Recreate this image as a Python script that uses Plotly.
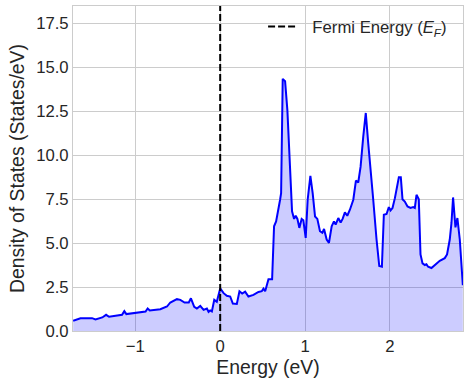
import plotly.graph_objects as go

energy = [-1.733, -1.647, -1.51, -1.47, -1.39, -1.345, -1.31, -1.157, -1.13, -1.106,
          -0.88, -0.855, -0.83, -0.706, -0.627, -0.588, -0.51, -0.47, -0.42, -0.37,
          -0.345, -0.306, -0.275, -0.235, -0.196, -0.157, -0.137, -0.118, -0.098, -0.07,
          -0.04, 0.0, 0.04, 0.078, 0.118, 0.149, 0.196, 0.227, 0.259, 0.294,
          0.333, 0.392, 0.451, 0.49, 0.51, 0.53, 0.569, 0.612, 0.635, 0.659,
          0.706, 0.718, 0.737, 0.765, 0.792, 0.824, 0.847, 0.871, 0.89, 0.91,
          0.933, 0.96, 0.98, 1.008, 1.031, 1.063, 1.09, 1.118, 1.145, 1.176,
          1.204, 1.224, 1.255, 1.282, 1.314, 1.341, 1.361, 1.392, 1.42, 1.443,
          1.47, 1.498, 1.529, 1.569, 1.6, 1.627, 1.655, 1.686, 1.716, 1.745,
          1.784, 1.804, 1.843, 1.875, 1.906, 1.929, 1.961, 1.988, 2.008, 2.031,
          2.059, 2.086, 2.106, 2.129, 2.149, 2.176, 2.208, 2.243, 2.275, 2.294,
          2.314, 2.341, 2.361, 2.385, 2.412, 2.431, 2.451, 2.49, 2.549, 2.588,
          2.647, 2.674, 2.706, 2.726, 2.745, 2.773, 2.796, 2.824, 2.86]
dos = [0.58, 0.72, 0.73, 0.66, 0.77, 0.92, 0.81, 0.92, 1.13, 0.96,
       1.11, 1.28, 1.17, 1.24, 1.39, 1.62, 1.81, 1.77, 1.62, 1.62,
       1.86, 1.37, 1.28, 1.43, 1.20, 1.28, 1.09, 1.17, 1.11, 1.77,
       1.66, 2.42, 2.15, 2.0, 1.96, 1.56, 1.54, 2.26, 2.13, 2.24,
       1.96, 2.05, 2.22, 2.26, 2.41, 2.26, 2.94, 2.94, 5.95, 6.23,
       7.46, 7.84, 14.33, 14.2, 12.54, 9.15, 6.8, 6.37, 6.55, 6.37,
       5.86, 6.37, 6.29, 5.29, 7.46, 8.81, 7.84, 6.51, 6.37, 5.67,
       5.58, 5.80, 5.20, 5.01, 5.95, 6.23, 6.05, 6.42, 6.17, 6.37,
       6.74, 6.55, 6.89, 7.46, 8.55, 8.44, 9.34, 11.03, 12.39, 10.66,
       8.21, 7.46, 5.20, 3.69, 3.65, 6.61, 6.65, 7.04, 6.85, 6.99,
       7.55, 8.31, 8.74, 8.74, 7.49, 7.36, 7.08, 6.99, 7.04, 6.99,
       7.74, 7.49, 4.35, 3.84, 3.75, 3.79, 3.65, 3.58, 3.84, 3.99,
       4.14, 4.35, 5.20, 6.14, 7.59, 5.89, 6.42, 5.20, 2.60]

fermi_energy = 0.0
x_range = [-1.735, 2.862]
y_range = [0, 18.47]
y_ticks = [0.0, 2.5, 5.0, 7.5, 10.0, 12.5, 15.0, 17.5]
x_ticks = [-1, 0, 1, 2]
x_tick_labels = ["\u22121", "0", "1", "2"]

FONT = "Liberation Sans, Arial, sans-serif"
GRID = "#cccccc"
TXT = "#262626"

fig = go.Figure()
fig.add_trace(go.Scatter(
    x=energy, y=dos, mode="lines",
    line=dict(color="#0000ff", width=2),
    fill="tozeroy", fillcolor="rgba(0,0,255,0.2)",
    showlegend=False, hoverinfo="skip"))
fig.add_trace(go.Scatter(
    x=[fermi_energy, fermi_energy], y=y_range, mode="lines",
    line=dict(color="black", width=2, dash="7px,3px"),
    name="  Fermi Energy (<i>E</i><sub><i>F</i></sub>)"))

fig.update_layout(
    width=469, height=380,
    margin=dict(l=73, r=6, t=5, b=48),
    paper_bgcolor="white", plot_bgcolor="white",
    font=dict(family=FONT, size=16.7, color=TXT),
    legend=dict(x=0.972, xanchor="right", y=0.99, yanchor="top",
                bgcolor="rgba(0,0,0,0)", font=dict(size=16.7, color=TXT),
                itemwidth=30),
)
fig.update_xaxes(
    range=x_range, tickvals=x_ticks, ticktext=x_tick_labels,
    showgrid=True, gridcolor=GRID, gridwidth=1,
    zeroline=False, showline=True, linecolor=GRID, linewidth=1, mirror=True,
    ticks="", ticklen=0,
    title=dict(text="Energy (eV)", font=dict(size=19.4), standoff=5),
    tickfont=dict(size=16.7))
fig.update_yaxes(
    range=y_range, tickvals=y_ticks, tickformat=".1f",
    showgrid=True, gridcolor=GRID, gridwidth=1,
    zeroline=False, showline=True, linecolor=GRID, linewidth=1, mirror=True,
    ticks="", ticklen=0,
    title=dict(text="Density of States (States/eV)", font=dict(size=19.4), standoff=6),
    tickfont=dict(size=16.7))

fig.write_html("out.html", config={"displayModeBar": False},
               post_script="document.body.style.margin='0';")
